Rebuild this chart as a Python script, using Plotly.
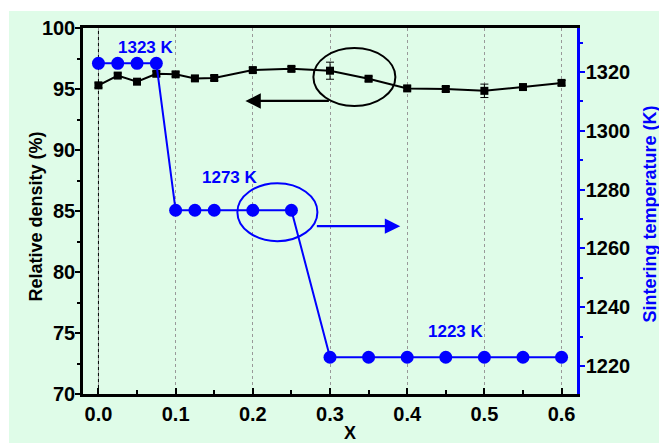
import plotly.graph_objects as go

x_vals = [0.0, 0.025, 0.05, 0.075, 0.1, 0.125, 0.15, 0.2, 0.25, 0.3, 0.35, 0.4, 0.45, 0.5, 0.55, 0.6]
density = [95.3, 96.1, 95.6, 96.25, 96.2, 95.87, 95.9, 96.55, 96.65, 96.5, 95.84, 95.05, 95.0, 94.85, 95.16, 95.5]
density_err = [0.2, 0.2, 0.2, 0.2, 0.2, 0.2, 0.2, 0.2, 0.2, 0.7, 0.2, 0.2, 0.2, 0.55, 0.2, 0.2]
temperature = [1323, 1323, 1323, 1323, 1273, 1273, 1273, 1273, 1273, 1223, 1223, 1223, 1223, 1223, 1223, 1223]

BLUE = "#0000FF"
FONT = "Liberation Sans"

fig = go.Figure()
fig.add_trace(go.Scatter(
    x=x_vals, y=density, mode="lines+markers",
    line=dict(color="black", width=2),
    marker=dict(symbol="square", size=8, color="black"),
    error_y=dict(type="data", array=density_err, color="black", thickness=1, width=4),
    showlegend=False))
fig.add_trace(go.Scatter(
    x=x_vals, y=temperature, mode="lines+markers", yaxis="y2",
    line=dict(color=BLUE, width=2),
    marker=dict(symbol="circle", size=13, color=BLUE),
    showlegend=False))

shapes = [
    dict(type="rect", xref="paper", yref="paper", x0=-74/494, x1=1.2, y0=-49/366, y1=1 + 17/366,
         fillcolor="#DFFCE8", line=dict(width=0), layer="below"),
    dict(type="line", xref="x", yref="paper", x0=0, x1=0, y0=0, y1=1,
         line=dict(color="black", width=1, dash="dot"), layer="below"),
    dict(type="circle", xref="x", yref="y", x0=0.2785, x1=0.3847, y0=93.61, y1=98.36,
         line=dict(color="black", width=2)),
    dict(type="circle", xref="x", yref="y2", x0=0.180, x1=0.2837, y0=1262.5, y1=1282.2,
         line=dict(color=BLUE, width=2)),
]

annotations = [
    dict(x=0.1904, y=94.02, ax=0.3005, ay=94.02, xref="x", yref="y", axref="x", ayref="y",
         text="", showarrow=True, arrowhead=2, arrowsize=1.4, arrowwidth=2.2, arrowcolor="black"),
    dict(x=0.391, y=1267.6, ax=0.281, ay=1267.6, xref="x", yref="y2", axref="x", ayref="y2",
         text="", showarrow=True, arrowhead=2, arrowsize=1.4, arrowwidth=2.2, arrowcolor=BLUE),
    dict(x=0.061, y=1328.2, xref="x", yref="y2", text="1323 K", showarrow=False,
         font=dict(family=FONT, size=17, color=BLUE, weight="bold")),
    dict(x=0.171, y=1284.0, xref="x", yref="y2", text="1273 K", showarrow=False,
         font=dict(family=FONT, size=17, color=BLUE, weight="bold")),
    dict(x=0.4637, y=1231.6, xref="x", yref="y2", text="1223 K", showarrow=False,
         font=dict(family=FONT, size=17, color=BLUE, weight="bold")),
    dict(x=(35 - 83) / 494, y=(394 - 216.5) / 366, xref="paper", yref="paper", text="Relative density (%)",
         textangle=-90, showarrow=False, xanchor="center", yanchor="middle",
         font=dict(family=FONT, size=18, color="black", weight="bold")),
    dict(x=(650 - 83) / 494, y=(394 - 214.5) / 366, xref="paper", yref="paper", text="Sintering temperature (K)",
         textangle=-90, showarrow=False, xanchor="center", yanchor="middle",
         font=dict(family=FONT, size=18, color=BLUE, weight="bold")),
    dict(x=(350 - 83) / 494, y=-(433 - 394) / 366, xref="paper", yref="paper", text="X",
         showarrow=False, xanchor="center", yanchor="middle",
         font=dict(family=FONT, size=18, color="black", weight="bold")),
]

tickfont = dict(family=FONT, size=20, color="black", weight="bold")

fig.update_layout(
    width=659, height=445,
    margin=dict(l=83, r=82, t=28, b=51),
    paper_bgcolor="white", plot_bgcolor="#EEE8D3",
    shapes=shapes, annotations=annotations,
    xaxis=dict(range=[-0.02, 0.62], tick0=0, dtick=0.1, tickformat=".1f",
               ticks="inside", ticklen=6, tickwidth=1.5, tickcolor="black",
               minor=dict(dtick=0.05, tick0=0, ticks="inside", ticklen=4, tickcolor="black", showgrid=False),
               showgrid=True, gridcolor="#999999", griddash="3px,3px", gridwidth=1,
               showline=True, linecolor="black", linewidth=2.5, mirror=True,
               zeroline=False, tickfont=tickfont, automargin=False),
    yaxis=dict(range=[70, 100], tick0=70, dtick=5, ticks="outside", ticklen=5, tickwidth=1.5,
               tickcolor="black", ticklabelstandoff=-4,
               minor=dict(dtick=2.5, tick0=70, ticks="outside", ticklen=3, tickcolor="black", showgrid=False),
               showgrid=False, zeroline=False, automargin=False,
               showline=True, linecolor="black", linewidth=2.5,
               tickfont=tickfont),
    yaxis2=dict(range=[1210.5, 1335], overlaying="y", side="right", tick0=1220, dtick=20,
                ticks="outside", ticklen=5, tickwidth=1.5, tickcolor=BLUE, ticklabelstandoff=-3,
                minor=dict(dtick=10, tick0=1220, ticks="outside", ticklen=3, tickcolor=BLUE, showgrid=False),
                showgrid=False, zeroline=False, automargin=False,
                showline=True, linecolor=BLUE, linewidth=2.5,
                tickfont=tickfont),
)

fig.write_html("out.html", config={"displayModeBar": False},
               post_script="document.body.style.margin='0px';document.body.style.overflow='hidden';")
